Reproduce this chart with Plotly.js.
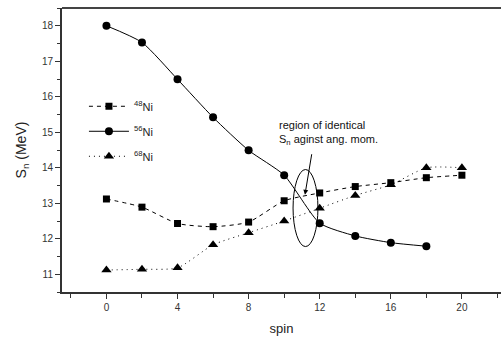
<!DOCTYPE html>
<html><head><meta charset="utf-8">
<script src="https://cdn.plot.ly/plotly-3.0.1.min.js"></script>
<style>html,body{margin:0;padding:0;background:#fff}#plot{width:501px;height:338px}</style>
</head><body><div id="plot"></div>
<script>
const spin = [0, 2, 4, 6, 8, 10, 12, 14, 16, 18, 20];
const spin56 = [0, 2, 4, 6, 8, 10, 12, 14, 16, 18];
const sn48 = [13.12, 12.89, 12.43, 12.34, 12.47, 13.07, 13.29, 13.47, 13.58, 13.72, 13.79];
const sn56 = [18.0, 17.53, 16.49, 15.42, 14.49, 13.79, 12.44, 12.08, 11.89, 11.79];
const sn68 = [11.12, 11.14, 11.18, 11.83, 12.17, 12.5, 12.86, 13.22, 13.52, 14.0, 14.0];
const names = ['<sup>48</sup>Ni', '<sup>56</sup>Ni', '<sup>68</sup>Ni'];
const annText = ['region of identical', 'S<sub>n</sub> aginst ang. mom.'];

const font = 'Liberation Sans, Arial, sans-serif';
const traces = [
  {x: spin, y: sn48, name: names[0], legendgroup: 'a', mode: 'lines+markers',
   line: {color: '#000', width: 1, dash: '4px,4px', shape: 'spline', smoothing: 0.6},
   marker: {symbol: 'square', size: 7, color: '#000'}},
  {x: spin56, y: sn56, name: names[1], legendgroup: 'b', mode: 'lines+markers',
   line: {color: '#000', width: 1, shape: 'spline', smoothing: 0.6},
   marker: {symbol: 'circle', size: 8, color: '#000'}},
  {x: spin, y: sn68, name: names[2], legendgroup: 'c', mode: 'lines+markers',
   line: {color: '#000', width: 1, dash: '1px,4px', shape: 'spline', smoothing: 0.6},
   marker: {symbol: 'triangle-up', size: 9, color: '#000'}}
];
const axisCommon = {showgrid: false, zeroline: false, showline: true, linecolor: '#333', linewidth: 2,
  ticks: 'outside', ticklen: 5, tickwidth: 1, tickcolor: '#333',
  tickfont: {family: font, size: 10, color: '#333'}};
const layout = {
  width: 501, height: 338,
  margin: {l: 62, r: 0, t: 8, b: 46},
  paper_bgcolor: '#fff', plot_bgcolor: '#fff',
  font: {family: font, color: '#222'},
  xaxis: Object.assign({}, axisCommon, {range: [-2.5, 22.2], tick0: 0, dtick: 4,
    minor: {dtick: 2, tick0: 0, ticks: 'outside', ticklen: 4, tickcolor: '#333'},
    title: {text: 'spin', font: {family: font, size: 13, color: '#222'}, standoff: 12}}),
  yaxis: Object.assign({}, axisCommon, {range: [10.5, 18.5], tick0: 11, dtick: 1,
    minor: {dtick: 0.5, ticks: 'outside', ticklen: 3, tickcolor: '#333'},
    title: {text: 'S<sub>n</sub> (MeV)', font: {family: font, size: 14, color: '#222'}, standoff: 12}}),
  showlegend: true,
  legend: {x: 0.05, y: 0.705, xanchor: 'left', yanchor: 'top', bgcolor: 'rgba(0,0,0,0)',
    font: {family: font, size: 11, color: '#222'}, tracegroupgap: 6, itemwidth: 40},
  shapes: [
    {type: 'line', xref: 'paper', yref: 'paper', x0: 0, x1: 1, y0: 1, y1: 1, line: {color: '#444', width: 2}},
    {type: 'circle', xref: 'x', yref: 'y', x0: 10.5, x1: 11.9, y0: 11.78, y1: 13.95, line: {color: '#000', width: 1}}
  ],
  annotations: [
    {xref: 'x', yref: 'y', x: 11.17, y: 13.24, ax: 7, ay: -42, axref: 'pixel', ayref: 'pixel',
     showarrow: true, arrowhead: 2, arrowsize: 1, arrowwidth: 1, arrowcolor: '#000', text: ''},
    {xref: 'paper', yref: 'paper', x: (277 - 62) / 439, y: (292 - 125.5) / 284, xanchor: 'left', yanchor: 'middle',
     showarrow: false, text: annText[0], font: {family: font, size: 11, color: '#111'}},
    {xref: 'paper', yref: 'paper', x: (277 - 62) / 439, y: (292 - 140) / 284, xanchor: 'left', yanchor: 'middle',
     showarrow: false, text: annText[1], font: {family: font, size: 11, color: '#111'}}
  ]
};
Plotly.newPlot('plot', traces, layout, {displayModeBar: false, staticPlot: true});
</script></body></html>
